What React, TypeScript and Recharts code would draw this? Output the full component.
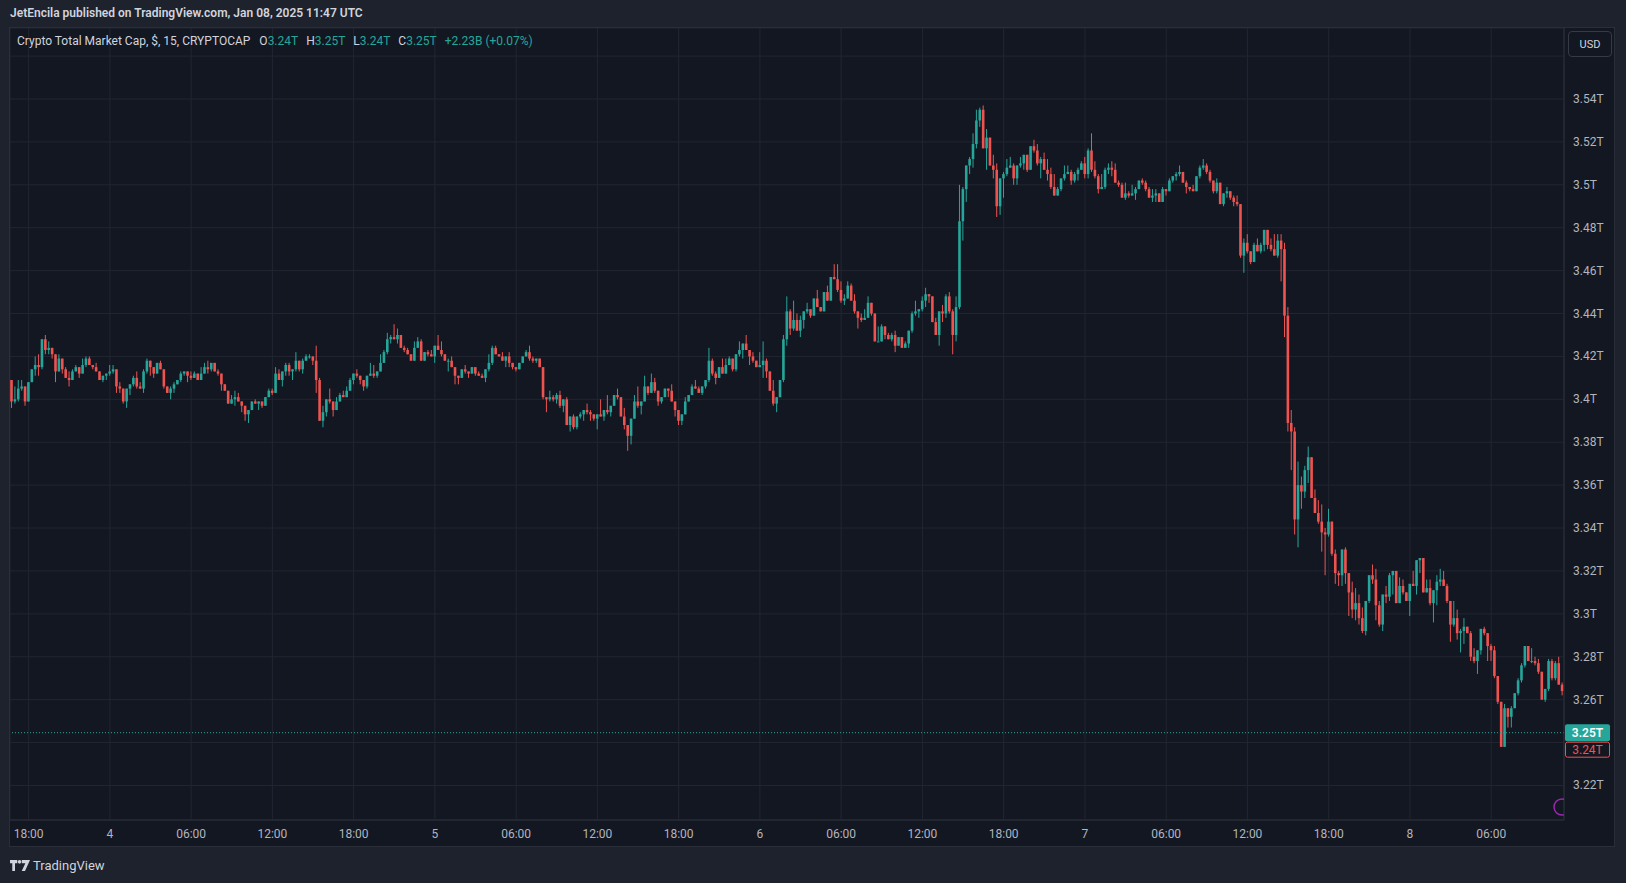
import React from "react";
import {
  ComposedChart,
  Bar,
  XAxis,
  YAxis,
  CartesianGrid,
  ReferenceLine,
} from "recharts";

const UP = "#26a69a";
const DOWN = "#ef5350";
const GRID = "#222631";
const AXIS_LINE = "#2a2e39";
const TEXT = "#b2b5be";
const FONT = "Roboto, 'Noto Sans', sans-serif";

// 15 minute candles, values in billions of USD
const startTime = Date.UTC(2025, 0, 3, 16, 45);
const firstOpen = 3409;

// each candle: [high, low, close]; open is the previous close
const jan3 = [
  [3409, 3396, 3399], [3406, 3398, 3400], [3409, 3399, 3405], [3409, 3404, 3406], [3406, 3397, 3399],
  [3408, 3399, 3408], [3414, 3408, 3414], [3420, 3411, 3416], [3421, 3411, 3415], [3428, 3414, 3428],
  [3430, 3421, 3423], [3427, 3421, 3424], [3424, 3419, 3421], [3421, 3408, 3413], [3421, 3413, 3419],
  [3419, 3412, 3414], [3415, 3410, 3410], [3413, 3406, 3409], [3414, 3409, 3413], [3416, 3413, 3415],
  [3415, 3410, 3412], [3419, 3412, 3416], [3420, 3415, 3419], [3420, 3416, 3416], [3416, 3414, 3415],
  [3417, 3413, 3413], [3413, 3409, 3409], [3411, 3408, 3411], [3412, 3409, 3412],
];

const jan4 = [
  [3416, 3411, 3413], [3416, 3412, 3414], [3414, 3403, 3406], [3408, 3403, 3405], [3405, 3398, 3399],
  [3405, 3396, 3405], [3407, 3402, 3407], [3411, 3406, 3410], [3413, 3405, 3406], [3408, 3405, 3405],
  [3414, 3403, 3413], [3419, 3412, 3418], [3418, 3411, 3415], [3415, 3410, 3412], [3417, 3412, 3417],
  [3418, 3414, 3414], [3414, 3405, 3406], [3406, 3403, 3403], [3406, 3400, 3405], [3408, 3403, 3407],
  [3409, 3407, 3409], [3413, 3408, 3412], [3413, 3411, 3413], [3413, 3408, 3411], [3413, 3409, 3410],
  [3413, 3410, 3412], [3412, 3409, 3409], [3415, 3409, 3412], [3417, 3412, 3415], [3418, 3412, 3414],
  [3417, 3413, 3417], [3417, 3413, 3413], [3414, 3411, 3412], [3412, 3404, 3407], [3407, 3404, 3404],
  [3404, 3398, 3398], [3402, 3398, 3400], [3404, 3397, 3401], [3403, 3399, 3399], [3399, 3394, 3397],
  [3397, 3390, 3393], [3395, 3389, 3395], [3399, 3395, 3399], [3400, 3398, 3398], [3399, 3395, 3399],
  [3399, 3396, 3397], [3401, 3397, 3401], [3405, 3401, 3404], [3405, 3402, 3403], [3415, 3403, 3412],
  [3414, 3409, 3409], [3413, 3406, 3413], [3417, 3411, 3416], [3417, 3411, 3413], [3414, 3409, 3414],
  [3422, 3413, 3418], [3418, 3413, 3414], [3419, 3412, 3418], [3421, 3418, 3420], [3421, 3419, 3420],
  [3420, 3416, 3418], [3425, 3403, 3409], [3410, 3390, 3390], [3397, 3387, 3394], [3400, 3392, 3400],
  [3405, 3398, 3399], [3399, 3392, 3395], [3401, 3395, 3399], [3403, 3399, 3402], [3404, 3401, 3401],
  [3406, 3401, 3404], [3410, 3404, 3409], [3412, 3407, 3412], [3414, 3410, 3411], [3411, 3407, 3409],
  [3409, 3404, 3406], [3411, 3405, 3411], [3417, 3411, 3412], [3416, 3410, 3411], [3413, 3410, 3413],
  [3421, 3413, 3417], [3423, 3417, 3422], [3431, 3421, 3428], [3430, 3426, 3429], [3435, 3428, 3428],
  [3433, 3426, 3430], [3430, 3424, 3424], [3425, 3422, 3423], [3424, 3421, 3421], [3421, 3418, 3418],
  [3427, 3418, 3424], [3429, 3424, 3427], [3428, 3418, 3418], [3422, 3418, 3422], [3423, 3420, 3421],
  [3423, 3420, 3420],
];

const jan5 = [
  [3425, 3417, 3425], [3430, 3423, 3423], [3427, 3420, 3421], [3421, 3418, 3418], [3419, 3413, 3418],
  [3420, 3415, 3415], [3415, 3407, 3411], [3411, 3407, 3410], [3414, 3410, 3414], [3416, 3412, 3413],
  [3413, 3410, 3412], [3415, 3412, 3415], [3415, 3411, 3412], [3413, 3411, 3411], [3412, 3410, 3410],
  [3414, 3408, 3414], [3421, 3413, 3417], [3425, 3416, 3424], [3425, 3421, 3421], [3421, 3420, 3420],
  [3422, 3418, 3418], [3420, 3415, 3420], [3422, 3415, 3417], [3417, 3414, 3415], [3415, 3413, 3414],
  [3417, 3414, 3417], [3420, 3417, 3420], [3423, 3420, 3422], [3425, 3418, 3419], [3420, 3417, 3418],
  [3419, 3417, 3419], [3419, 3415, 3415], [3415, 3400, 3401], [3401, 3394, 3400], [3404, 3399, 3401],
  [3402, 3399, 3400], [3403, 3398, 3402], [3404, 3396, 3397], [3400, 3394, 3400], [3401, 3388, 3388],
  [3392, 3385, 3392], [3393, 3386, 3387], [3392, 3386, 3392], [3394, 3391, 3393], [3395, 3390, 3395],
  [3398, 3393, 3394], [3395, 3390, 3393], [3393, 3390, 3391], [3393, 3386, 3393], [3400, 3392, 3392],
  [3395, 3390, 3395], [3402, 3393, 3394], [3397, 3392, 3397], [3402, 3397, 3402], [3405, 3400, 3401],
  [3401, 3392, 3392], [3396, 3386, 3388], [3388, 3376, 3383], [3391, 3379, 3391], [3402, 3391, 3399],
  [3406, 3396, 3397], [3399, 3393, 3399], [3411, 3399, 3406], [3406, 3402, 3403], [3412, 3403, 3408],
  [3410, 3403, 3404], [3404, 3397, 3399], [3401, 3398, 3401], [3405, 3401, 3405], [3405, 3401, 3404],
  [3407, 3399, 3399], [3399, 3392, 3395], [3395, 3388, 3390], [3393, 3388, 3393], [3401, 3393, 3399],
  [3402, 3399, 3402], [3407, 3402, 3406], [3409, 3405, 3405], [3406, 3403, 3403], [3406, 3402, 3406],
  [3409, 3405, 3409], [3424, 3408, 3418], [3419, 3411, 3412], [3413, 3407, 3410], [3415, 3410, 3415],
  [3419, 3412, 3412], [3419, 3412, 3416], [3420, 3416, 3419], [3419, 3413, 3414], [3421, 3413, 3421],
  [3427, 3420, 3423], [3426, 3419, 3426], [3430, 3423, 3423], [3423, 3416, 3420], [3422, 3417, 3418],
  [3418, 3415, 3415],
];

const jan6 = [
  [3422, 3415, 3416], [3427, 3410, 3418], [3419, 3410, 3413], [3413, 3404, 3404], [3409, 3397, 3398],
  [3401, 3394, 3401], [3409, 3401, 3409], [3430, 3408, 3428], [3448, 3425, 3441], [3442, 3430, 3433],
  [3446, 3432, 3437], [3440, 3432, 3432], [3439, 3429, 3437], [3441, 3433, 3441], [3445, 3440, 3442],
  [3442, 3438, 3439], [3447, 3439, 3447], [3451, 3443, 3443], [3443, 3441, 3441], [3450, 3441, 3450],
  [3453, 3446, 3446], [3457, 3446, 3457], [3463, 3456, 3456], [3463, 3450, 3451], [3455, 3445, 3446],
  [3449, 3444, 3447], [3455, 3447, 3453], [3454, 3446, 3446], [3449, 3440, 3441], [3441, 3433, 3438],
  [3440, 3436, 3437], [3442, 3437, 3438], [3448, 3438, 3445], [3445, 3439, 3440], [3440, 3427, 3427],
  [3434, 3427, 3427], [3435, 3427, 3434], [3434, 3428, 3430], [3431, 3428, 3428], [3431, 3427, 3430],
  [3432, 3422, 3425], [3429, 3425, 3429], [3429, 3424, 3424], [3427, 3424, 3426], [3432, 3424, 3432],
  [3441, 3431, 3440], [3446, 3439, 3441], [3442, 3438, 3442], [3448, 3441, 3446], [3452, 3443, 3449],
  [3449, 3445, 3448], [3448, 3436, 3436], [3438, 3430, 3430], [3441, 3425, 3441], [3444, 3436, 3440],
  [3449, 3438, 3448], [3450, 3440, 3441], [3442, 3421, 3430], [3448, 3427, 3443], [3500, 3442, 3483],
  [3499, 3474, 3498], [3509, 3492, 3509], [3513, 3505, 3512], [3524, 3508, 3519], [3535, 3517, 3530],
  [3536, 3527, 3535], [3537, 3517, 3517], [3526, 3507, 3522], [3522, 3509, 3509], [3514, 3503, 3507],
  [3510, 3485, 3490], [3503, 3486, 3503], [3506, 3494, 3505], [3512, 3504, 3508], [3513, 3508, 3509],
  [3510, 3500, 3503], [3509, 3500, 3509], [3513, 3508, 3510], [3514, 3507, 3514], [3514, 3506, 3507],
  [3518, 3507, 3518], [3521, 3515, 3516], [3519, 3509, 3510], [3513, 3503, 3512], [3515, 3507, 3507],
  [3512, 3502, 3505], [3508, 3498, 3499], [3505, 3495, 3495], [3499, 3495, 3498], [3503, 3497, 3503],
  [3509, 3502, 3505], [3509, 3505, 3506], [3507, 3500, 3502], [3506, 3501, 3505], [3508, 3502, 3507],
  [3511, 3507, 3510],
];

const jan7 = [
  [3513, 3503, 3505], [3517, 3503, 3516], [3524, 3506, 3507], [3511, 3503, 3504], [3505, 3496, 3498],
  [3505, 3498, 3499], [3508, 3498, 3507], [3510, 3505, 3508], [3511, 3504, 3507], [3510, 3501, 3501],
  [3502, 3499, 3500], [3501, 3494, 3494], [3501, 3493, 3496], [3497, 3494, 3495], [3500, 3495, 3496],
  [3499, 3493, 3498], [3502, 3498, 3502], [3503, 3500, 3501], [3502, 3497, 3498], [3499, 3494, 3494],
  [3498, 3492, 3495], [3498, 3492, 3496], [3496, 3492, 3492], [3499, 3492, 3498], [3498, 3495, 3497],
  [3503, 3497, 3502], [3504, 3501, 3504], [3506, 3502, 3505], [3509, 3504, 3506], [3506, 3501, 3501],
  [3502, 3496, 3499], [3499, 3497, 3498], [3500, 3497, 3497], [3504, 3497, 3504], [3509, 3503, 3508],
  [3512, 3507, 3509], [3510, 3505, 3506], [3507, 3501, 3502], [3502, 3496, 3497], [3503, 3496, 3501],
  [3501, 3491, 3491], [3496, 3490, 3496], [3499, 3494, 3497], [3497, 3493, 3494], [3495, 3490, 3492],
  [3495, 3490, 3491], [3491, 3466, 3467], [3475, 3459, 3473], [3477, 3468, 3469], [3469, 3463, 3464],
  [3473, 3464, 3472], [3475, 3469, 3469], [3473, 3468, 3472], [3479, 3469, 3479], [3479, 3470, 3472],
  [3475, 3469, 3470], [3477, 3467, 3467], [3477, 3466, 3474], [3477, 3455, 3470], [3473, 3429, 3439],
  [3443, 3385, 3389], [3395, 3367, 3385], [3387, 3337, 3344], [3371, 3331, 3360], [3364, 3349, 3357],
  [3369, 3354, 3367], [3378, 3361, 3373], [3373, 3354, 3354], [3358, 3347, 3347], [3353, 3342, 3343],
  [3351, 3329, 3338], [3340, 3318, 3337], [3349, 3336, 3343], [3343, 3327, 3328], [3330, 3314, 3319],
  [3320, 3313, 3318], [3330, 3313, 3330], [3331, 3314, 3319], [3319, 3299, 3310], [3315, 3298, 3302],
  [3312, 3297, 3305], [3309, 3295, 3298], [3303, 3291, 3292], [3306, 3290, 3306], [3318, 3305, 3318],
  [3323, 3314, 3316], [3321, 3297, 3304], [3306, 3294, 3295], [3309, 3292, 3309], [3313, 3305, 3308],
  [3319, 3306, 3318], [3320, 3309, 3320], [3320, 3305, 3305], [3317, 3305, 3313], [3316, 3309, 3310],
  [3310, 3306, 3306],
];

const jan8 = [
  [3314, 3299, 3314], [3320, 3313, 3313], [3325, 3309, 3325], [3326, 3319, 3326], [3326, 3310, 3310],
  [3316, 3310, 3312], [3316, 3304, 3305], [3311, 3296, 3311], [3318, 3304, 3315], [3321, 3313, 3316],
  [3320, 3313, 3313], [3314, 3305, 3306], [3306, 3287, 3295], [3306, 3294, 3298], [3302, 3288, 3291],
  [3293, 3282, 3292], [3298, 3286, 3294], [3294, 3291, 3291], [3292, 3278, 3280], [3284, 3277, 3278],
  [3283, 3272, 3283], [3293, 3281, 3293], [3294, 3290, 3291], [3291, 3278, 3285], [3286, 3278, 3283],
  [3285, 3270, 3271], [3271, 3258, 3259], [3259, 3238, 3238], [3258, 3238, 3256], [3256, 3247, 3252],
  [3257, 3247, 3256], [3263, 3256, 3263], [3270, 3262, 3269], [3277, 3268, 3276], [3285, 3275, 3285],
  [3285, 3278, 3278], [3284, 3277, 3278], [3280, 3276, 3277], [3279, 3272, 3273], [3273, 3260, 3260],
  [3265, 3259, 3265], [3279, 3264, 3278], [3279, 3269, 3270], [3278, 3269, 3277], [3280, 3267, 3267],
  [3268, 3262, 3264],
];

const priceTicks = [3220, 3240, 3260, 3280, 3300, 3320, 3340, 3360, 3380, 3400, 3420, 3440, 3460, 3480, 3500, 3520, 3540, 3560];
const hiddenPriceLabels = [3240, 3560];
const lastPrice = 3244.6;
const lastLabel = "3.25T";
const prevLabel = "3.24T";

const pad = (n: number) => String(n).padStart(2, "0");

const candles = (() => {
  const rows: any[] = [];
  let prev = firstOpen;
  [jan3, jan4, jan5, jan6, jan7, jan8].flat().forEach(([h, l, c], i) => {
    const d = new Date(startTime + i * 15 * 60 * 1000);
    const open = prev;
    const high = Math.max(h, open, c);
    const low = Math.min(l, open, c);
    rows.push({
      t: `${d.getUTCDate()} ${pad(d.getUTCHours())}:${pad(d.getUTCMinutes())}`,
      hour: d.getUTCHours(),
      minute: d.getUTCMinutes(),
      open,
      close: c,
      high,
      low,
      range: [low, high],
    });
    prev = c;
  });
  return rows;
})();

const timeTicks = candles
  .filter((r) => r.minute === 0 && r.hour % 6 === 0)
  .map((r) => r.t);

const timeLabel = (t: string) => {
  const [day, hm] = t.split(" ");
  return hm === "00:00" ? day : hm;
};

const Candle = (props: any) => {
  const { x, y, width, height, payload } = props;
  if (x == null || !payload) return null;
  const { open, close, high, low } = payload;
  const top = Math.min(y, y + height);
  const h = Math.abs(height);
  const span = high - low;
  const py = (v: number) => (span > 0 ? top + ((high - v) / span) * h : top);
  const color = close >= open ? UP : DOWN;
  const cx = x + width / 2;
  const bw = 2.6;
  const bTop = py(Math.max(open, close));
  const bH = Math.max(1, py(Math.min(open, close)) - bTop);
  return (
    <g>
      <line x1={cx} x2={cx} y1={top} y2={top + Math.max(h, 1)} stroke={color} strokeWidth={1} />
      <rect x={cx - bw / 2} y={bTop} width={bw} height={bH} fill={color} />
    </g>
  );
};

const PriceTick = (props: any) => {
  const { x, y, payload } = props;
  if (hiddenPriceLabels.includes(payload.value)) return <g />;
  return (
    <text x={x + 1} y={y} dy={4} fill={TEXT} fontSize={12} fontFamily={FONT} textAnchor="start">
      {`${payload.value / 1000}T`}
    </text>
  );
};

const TimeTick = (props: any) => {
  const { x, y, payload } = props;
  return (
    <text x={x} y={y} dy={10} fill={TEXT} fontSize={12} fontFamily={FONT} textAnchor="middle">
      {timeLabel(payload.value)}
    </text>
  );
};

const PriceTags = (props: any) => {
  const vb = props.viewBox || {};
  const left = vb.x + vb.width + 1;
  const cy = vb.y;
  return (
    <g fontFamily={FONT} fontSize={12}>
      <rect x={left} y={cy - 8.5} width={45} height={17} rx={2} fill={UP} />
      <text x={left + 22.5} y={cy + 4} textAnchor="middle" fill="#ffffff" fontWeight={600}>
        {lastLabel}
      </text>
      <rect x={left + 0.5} y={cy + 9.5} width={44} height={15} rx={2} fill="#131722" stroke={DOWN} />
      <text x={left + 22.5} y={cy + 21.5} textAnchor="middle" fill={DOWN}>
        {prevLabel}
      </text>
    </g>
  );
};

const TvLogo = () => (
  <svg width="20" height="11" viewBox="0 0 22 12">
    <path d="M0 0h8v3.5H5.5V12H2.5V3.5H0z" fill="#d1d4dc" />
    <circle cx="10.5" cy="2" r="2" fill="#d1d4dc" />
    <path d="M13 0h9l-5.5 12h-3.6l4-8.5H13z" fill="#d1d4dc" />
  </svg>
);

export default function App() {
  return (
    <div
      style={{
        position: "relative",
        width: 1626,
        height: 883,
        background: "#1e222d",
        fontFamily: FONT,
        overflow: "hidden",
      }}
    >
      <style>{`body{margin:0;background:#1e222d}`}</style>
      <div
        style={{
          position: "absolute",
          left: 10,
          top: 6,
          fontSize: 12,
          fontWeight: 600,
          color: "#d1d4dc",
          whiteSpace: "nowrap",
        }}
      >
        JetEncila published on TradingView.com, Jan 08, 2025 11:47 UTC
      </div>

      <div
        style={{
          position: "absolute",
          left: 9,
          top: 27,
          width: 1606,
          height: 820,
          background: "#131722",
          border: `1px solid ${AXIS_LINE}`,
          boxSizing: "border-box",
        }}
      />

      <div style={{ position: "absolute", left: 10, top: 28 }}>
        <ComposedChart
          width={1605}
          height={819}
          data={candles}
          margin={{ top: 0, right: 0, bottom: 0, left: 0 }}
          barCategoryGap={0}
          barGap={0}
        >
          <CartesianGrid stroke={GRID} />
          <XAxis
            dataKey="t"
            ticks={timeTicks}
            interval={0}
            height={27}
            tickLine={false}
            axisLine={{ stroke: AXIS_LINE }}
            tick={<TimeTick />}
          />
          <YAxis
            orientation="right"
            type="number"
            width={51}
            domain={[3203.9, 3573.1]}
            allowDataOverflow
            ticks={priceTicks}
            interval={0}
            tickLine={false}
            axisLine={{ stroke: AXIS_LINE }}
            tick={<PriceTick />}
          />
          <Bar dataKey="range" shape={<Candle />} isAnimationActive={false} />
          <ReferenceLine
            y={lastPrice}
            stroke={UP}
            strokeDasharray="1 2"
            label={<PriceTags />}
          />
        </ComposedChart>
      </div>

      <div
        style={{
          position: "absolute",
          left: 17,
          top: 34,
          fontSize: 12,
          color: "#d1d4dc",
          whiteSpace: "nowrap",
        }}
      >
        Crypto Total Market Cap, $, 15, CRYPTOCAP
        <span style={{ marginLeft: 9 }}>O</span>
        <span style={{ color: UP }}>3.24T</span>
        <span style={{ marginLeft: 8 }}>H</span>
        <span style={{ color: UP }}>3.25T</span>
        <span style={{ marginLeft: 8 }}>L</span>
        <span style={{ color: UP }}>3.24T</span>
        <span style={{ marginLeft: 8 }}>C</span>
        <span style={{ color: UP }}>3.25T</span>
        <span style={{ color: UP, marginLeft: 8 }}>+2.23B (+0.07%)</span>
      </div>

      <div
        style={{
          position: "absolute",
          left: 1568,
          top: 31,
          width: 44,
          height: 26,
          boxSizing: "border-box",
          border: "1px solid #363a45",
          borderRadius: 4,
          background: "#131722",
          color: "#d1d4dc",
          fontSize: 11,
          display: "flex",
          alignItems: "center",
          justifyContent: "center",
        }}
      >
        USD
      </div>

      <div
        style={{
          position: "absolute",
          left: 1552,
          top: 797,
          width: 12,
          height: 20,
          overflow: "hidden",
        }}
      >
        <svg width="20" height="20">
          <circle cx="10" cy="10" r="8" fill="none" stroke="#9c27b0" strokeWidth={1.5} />
        </svg>
      </div>

      <div
        style={{
          position: "absolute",
          left: 10,
          top: 858,
          display: "flex",
          alignItems: "center",
          gap: 3,
          color: "#d1d4dc",
          fontSize: 13,
        }}
      >
        <TvLogo />
        <span>TradingView</span>
      </div>
    </div>
  );
}
